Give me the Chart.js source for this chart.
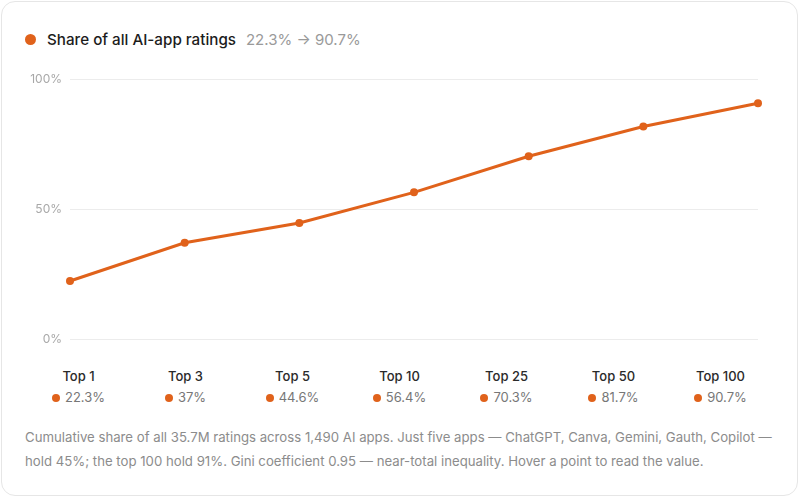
<!DOCTYPE html>
<html>
<head>
<meta charset="utf-8">
<script src="https://cdn.jsdelivr.net/npm/chart.js@4/dist/chart.umd.min.js"></script>
<style>
  html, body { margin: 0; padding: 0; background: #fff; }
  body { font-family: Inter, "Noto Sans", sans-serif; }
  .card {
    position: absolute; left: 1px; top: 1px;
    width: 749px; height: 466px;
    padding: 27px 23px 0 23px;
    border: 1px solid #e6e6e6; border-radius: 14px;
    background: #fff;
  }
  .legend { height: 20px; display: flex; align-items: center; font-size: 15px; }
  .legend .dot { width: 11px; height: 11px; border-radius: 50%; background: #e0621b; margin: 0 11px 0 0; }
  .legend .name { font-weight: 500; color: #1c1c1c; font-size: 15.2px; }
  .legend .range { color: #9a9a9a; margin-left: 10px; }
  .plot { position: relative; height: 290px; margin-top: 11px; }
  .cats { display: flex; margin-top: 17px; }
  .cats .col { flex: 1; text-align: center; }
  .cats .lab { font-size: 13px; font-weight: 500; color: #2a2a2a; line-height: 18px; }
  .cats .val { font-size: 13px; color: #777; line-height: 18px; margin-top: 3px; }
  .cats .val i { display: inline-block; width: 8px; height: 8px; border-radius: 50%; background: #e0621b; margin-right: 5px; vertical-align: 0px; }
  .note { margin-top: 19px; font-size: 13.2px; line-height: 24px; color: #8c8c8c; }
</style>
</head>
<body>
<div class="card">
  <div class="legend"><span class="dot"></span><span class="name">Share of all AI-app ratings</span><span class="range" id="range"></span></div>
  <div class="plot"><canvas id="linechart"></canvas></div>
  <div class="cats" id="cats"></div>
  <div class="note">Cumulative share of all 35.7M ratings across 1,490 AI apps. Just five apps — ChatGPT, Canva, Gemini, Gauth, Copilot — hold 45%; the top 100 hold 91%. Gini coefficient 0.95 — near-total inequality. Hover a point to read the value.</div>
</div>
<script>
// Data
const categories = ['Top 1','Top 3','Top 5','Top 10','Top 25','Top 50','Top 100'];
const shares = [22.3, 37, 44.6, 56.4, 70.3, 81.7, 90.7];
const yTicks = [0, 50, 100];

const orange = '#e0621b';

document.getElementById('range').textContent =
  shares[0] + '% \u2192 ' + shares[shares.length - 1] + '%';

document.getElementById('cats').innerHTML = categories.map((c, i) =>
  '<div class="col"><div class="lab">' + c + '</div><div class="val"><i></i>' + shares[i] + '%</div></div>'
).join('');

new Chart('linechart', {
  type: 'line',
  data: {
    labels: categories,
    datasets: [{
      data: shares,
      borderColor: orange,
      backgroundColor: orange,
      borderWidth: 3,
      pointRadius: 4,
      pointBorderWidth: 0,
      pointBackgroundColor: orange,
      tension: 0
    }]
  },
  options: {
    responsive: true,
    maintainAspectRatio: false,
    animation: false,
    layout: { autoPadding: false, padding: { top: 19, bottom: 11, right: 16, left: 0 } },
    plugins: { legend: { display: false }, tooltip: { enabled: true } },
    scales: {
      x: { display: false, offset: false },
      y: {
        min: 0, max: 100,
        afterBuildTicks: (s) => { s.ticks = yTicks.map(v => ({ value: v })); },
        // fixed axis width, no label overflow padding
        afterFit: (s) => { s.width = 45; s.paddingTop = 0; s.paddingBottom = 0; },
        border: { display: false },
        grid: { color: '#ececec', lineWidth: 1, drawTicks: false },
        ticks: {
          padding: 8,
          color: '#a8a8a8',
          font: { family: 'Inter', size: 12 },
          callback: (v) => v + '%'
        }
      }
    }
  }
});
</script>
</body>
</html>
